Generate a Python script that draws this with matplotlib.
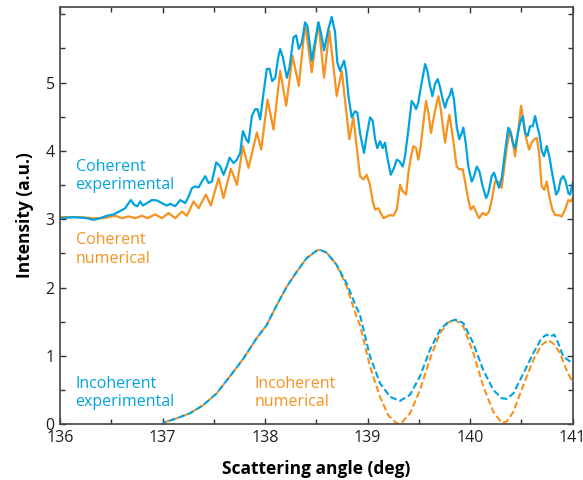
import numpy as np
from matplotlib import pyplot as plt
from matplotlib.ticker import MultipleLocator

# 相干 实验 (蓝色实线)
coh_exp_x = [136.000, 136.130, 136.260, 136.325, 136.390, 136.455, 136.520, 136.585, 136.634, 136.667,
             136.689, 136.722, 136.754, 136.780, 136.807, 136.846, 136.894, 136.943, 136.992, 137.041,
             137.073, 137.122, 137.171, 137.220, 137.252, 137.285, 137.317, 137.350, 137.382, 137.415,
             137.447, 137.480, 137.522, 137.561, 137.593, 137.626, 137.652, 137.691, 137.724, 137.756,
             137.782, 137.815, 137.837, 137.870, 137.902, 137.925, 137.951, 137.984, 138.016, 138.042,
             138.068, 138.098, 138.130, 138.146, 138.172, 138.211, 138.237, 138.276, 138.302, 138.328,
             138.358, 138.389, 138.412, 138.454, 138.519, 138.542, 138.574, 138.616, 138.649, 138.681,
             138.704, 138.730, 138.756, 138.769, 138.789, 138.812, 138.844, 138.877, 138.899, 138.925,
             138.964, 138.990, 139.023, 139.049, 139.072, 139.094, 139.120, 139.147, 139.169, 139.192,
             139.225, 139.257, 139.283, 139.309, 139.342, 139.364, 139.397, 139.429, 139.452, 139.472,
             139.494, 139.527, 139.560, 139.582, 139.608, 139.631, 139.657, 139.683, 139.706, 139.732,
             139.755, 139.777, 139.797, 139.820, 139.842, 139.868, 139.894, 139.917, 139.933, 139.956,
             139.982, 140.015, 140.038, 140.064, 140.090, 140.122, 140.155, 140.177, 140.210, 140.233,
             140.259, 140.281, 140.307, 140.330, 140.356, 140.372, 140.395, 140.415, 140.438, 140.460,
             140.486, 140.512, 140.535, 140.561, 140.584, 140.610, 140.633, 140.655, 140.675, 140.698,
             140.720, 140.747, 140.772, 140.805, 140.838, 140.860, 140.883, 140.909, 140.932, 140.958,
             140.974, 141.000]
coh_exp_y = [3.015, 3.03, 3.015, 2.99, 3.015, 3.05, 3.07, 3.12, 3.16, 3.235,
             3.28, 3.21, 3.19, 3.26, 3.20, 3.235, 3.28, 3.275, 3.235, 3.20,
             3.225, 3.19, 3.28, 3.235, 3.33, 3.455, 3.48, 3.465, 3.55, 3.63,
             3.53, 3.55, 3.83, 3.775, 3.65, 3.775, 3.90, 3.82, 3.87, 3.97,
             4.29, 4.17, 4.12, 4.51, 4.61, 4.61, 4.46, 4.85, 5.20, 5.20,
             5.02, 5.07, 5.39, 5.49, 5.37, 5.07, 5.22, 5.66, 5.69, 5.49,
             5.59, 5.88, 5.83, 5.32, 5.88, 5.74, 5.47, 5.78, 5.96, 5.74,
             5.29, 5.17, 5.27, 5.32, 5.17, 4.80, 4.49, 4.58, 4.56, 4.26,
             3.97, 4.22, 4.49, 4.44, 4.17, 4.04, 4.14, 4.04, 4.12, 3.90,
             3.65, 3.75, 3.87, 3.85, 3.77, 3.92, 4.31, 4.73, 4.68, 4.61,
             4.71, 5.00, 5.27, 5.17, 4.95, 4.80, 4.98, 5.05, 4.93, 4.75,
             4.63, 4.75, 4.80, 4.91, 4.75, 4.36, 4.17, 4.26, 4.34, 4.12,
             3.77, 3.55, 3.63, 3.77, 3.70, 3.48, 3.31, 3.38, 3.63, 3.68,
             3.55, 3.46, 3.60, 3.87, 4.17, 4.34, 4.26, 4.12, 4.04, 4.22,
             4.41, 4.51, 4.26, 4.22, 4.36, 4.36, 4.51, 4.36, 4.24, 4.00,
             3.92, 4.07, 3.92, 3.63, 3.36, 3.41, 3.58, 3.63, 3.55, 3.38,
             3.36, 3.53]

# 相干 数值 (橙色实线)
coh_num_x = [136.000, 136.195, 136.325, 136.423, 136.537, 136.602, 136.667, 136.732, 136.797, 136.852,
             136.927, 136.992, 137.057, 137.122, 137.187, 137.236, 137.301, 137.350, 137.421, 137.470,
             137.545, 137.593, 137.665, 137.724, 137.782, 137.837, 137.919, 137.961, 138.023, 138.081,
             138.146, 138.205, 138.267, 138.328, 138.389, 138.454, 138.519, 138.574, 138.626, 138.698,
             138.747, 138.821, 138.860, 138.925, 138.958, 138.990, 139.023, 139.049, 139.072, 139.104,
             139.153, 139.186, 139.218, 139.251, 139.283, 139.316, 139.342, 139.374, 139.397, 139.423,
             139.446, 139.472, 139.494, 139.517, 139.543, 139.569, 139.592, 139.618, 139.641, 139.667,
             139.690, 139.713, 139.738, 139.755, 139.777, 139.797, 139.820, 139.842, 139.868, 139.894,
             139.927, 139.950, 139.982, 140.005, 140.031, 140.057, 140.086, 140.122, 140.155, 140.184,
             140.210, 140.242, 140.275, 140.307, 140.330, 140.356, 140.389, 140.411, 140.438, 140.470,
             140.496, 140.519, 140.545, 140.574, 140.600, 140.626, 140.649, 140.672, 140.698, 140.724,
             140.747, 140.772, 140.802, 140.828, 140.860, 140.893, 140.925, 140.958, 140.981, 141.000]
coh_num_y = [3.03, 3.03, 3.015, 3.015, 3.05, 3.015, 3.04, 3.015, 3.05, 3.015,
             3.07, 3.015, 3.09, 3.015, 3.11, 3.05, 3.26, 3.16, 3.36, 3.20,
             3.60, 3.31, 3.74, 3.50, 4.07, 3.75, 4.27, 4.02, 4.75, 4.31,
             5.17, 4.66, 5.39, 4.95, 5.86, 5.15, 5.88, 5.07, 5.76, 4.80,
             5.17, 4.17, 4.49, 3.63, 3.58, 3.65, 3.50, 3.26, 3.14, 3.16,
             3.015, 3.04, 3.06, 3.05, 3.14, 3.50, 3.41, 3.36, 3.68, 3.92,
             4.07, 4.04, 3.87, 4.07, 4.41, 4.73, 4.56, 4.26, 4.46, 4.66,
             4.80, 4.61, 4.31, 4.12, 4.36, 4.53, 4.31, 4.07, 3.77, 3.73,
             3.73, 3.55, 3.28, 3.14, 3.19, 3.11, 3.015, 3.09, 3.06, 3.11,
             3.28, 3.55, 3.55, 3.46, 3.73, 4.04, 4.31, 4.17, 3.92, 4.31,
             4.66, 4.46, 4.19, 4.02, 4.12, 4.17, 4.19, 3.97, 3.48, 3.43,
             3.55, 3.33, 3.14, 3.06, 3.06, 3.04, 3.14, 3.28, 3.26, 3.31]

# 非相干 (虚线) 两条曲线在峰值前重合
inc_rise_x = [137.000, 137.136, 137.266, 137.396, 137.526, 137.656, 137.787, 137.917, 138.014, 138.112,
              138.209, 138.307, 138.404, 138.502, 138.535, 138.600, 138.697]
inc_rise_y = [0.02, 0.085, 0.16, 0.28, 0.45, 0.70, 0.96, 1.26, 1.45, 1.74,
              2.01, 2.23, 2.43, 2.54, 2.55, 2.51, 2.33]

inc_exp_tail_x = [138.795, 138.892, 138.925, 139.023, 139.120, 139.218, 139.315, 139.413, 139.510, 139.608,
                  139.705, 139.787, 139.862, 139.933, 140.031, 140.128, 140.226, 140.307, 140.356, 140.421,
                  140.518, 140.616, 140.697, 140.746, 140.779, 140.821, 140.860, 140.909, 141.000]
inc_exp_tail_y = [2.06, 1.70, 1.60, 0.99, 0.60, 0.40, 0.34, 0.43, 0.70, 1.09,
                  1.38, 1.50, 1.53, 1.48, 1.18, 0.79, 0.50, 0.38, 0.37, 0.45,
                  0.74, 1.04, 1.26, 1.31, 1.28, 1.31, 1.18, 0.99, 0.89]

inc_num_tail_x = [138.795, 138.892, 138.925, 139.023, 139.120, 139.201, 139.283, 139.332, 139.413, 139.510,
                  139.608, 139.705, 139.787, 139.852, 139.933, 140.031, 140.128, 140.226, 140.307, 140.356,
                  140.421, 140.518, 140.616, 140.697, 140.762, 140.811, 140.876, 140.941, 141.000]
inc_num_tail_y = [2.01, 1.57, 1.45, 0.84, 0.40, 0.13, 0.01, 0.02, 0.16, 0.50,
                  0.96, 1.33, 1.49, 1.53, 1.43, 1.04, 0.55, 0.18, 0.02, 0.04,
                  0.18, 0.57, 0.94, 1.16, 1.23, 1.18, 1.04, 0.79, 0.61]

inc_exp_x = inc_rise_x + inc_exp_tail_x
inc_exp_y = inc_rise_y + inc_exp_tail_y
inc_num_x = inc_rise_x + inc_num_tail_x
inc_num_y = inc_rise_y + inc_num_tail_y

blue = '#00A3DF'
orange = '#F7921E'

plt.rcParams['font.family'] = ['Open Sans', 'DejaVu Sans']

fig = plt.figure(figsize=(5.83, 4.8), dpi=100)
ax = fig.add_axes([0.1033, 0.1163, 0.879, 0.8698])

ax.plot(coh_num_x, coh_num_y, color=orange, linewidth=1.6)
ax.plot(coh_exp_x, coh_exp_y, color=blue, linewidth=1.6)
ax.plot(inc_num_x, inc_num_y, color=orange, linewidth=1.5, linestyle=(0, (3.2, 1.5)))
ax.plot(inc_exp_x, inc_exp_y, color=blue, linewidth=1.5, linestyle=(1.6, (3.2, 1.5)))

ax.set_xlim(136, 141)
ax.set_ylim(0, 6.11)
ax.xaxis.set_major_locator(MultipleLocator(1))
ax.xaxis.set_minor_locator(MultipleLocator(0.5))
ax.yaxis.set_major_locator(MultipleLocator(1))
ax.yaxis.set_minor_locator(MultipleLocator(0.5))
ax.set_yticks([0, 1, 2, 3, 4, 5])
ax.tick_params(which='both', direction='in', top=True, right=True, color='#333333',
               width=1.0, labelsize=11.5, labelcolor='#231f20')
ax.tick_params(which='major', length=4.5, pad=4)
ax.tick_params(which='minor', length=3.5)
for s in ax.spines.values():
    s.set_linewidth(1.2)
    s.set_color('#444444')

ax.set_xlabel('Scattering angle (deg)', fontsize=12.5, fontweight='bold', labelpad=10)
ax.set_ylabel('Intensity (a.u.)', fontsize=12.5, fontweight='bold', labelpad=8)

ax.text(136.15, 3.44, 'Coherent\nexperimental', color=blue, fontsize=11.5,
        va='baseline', ha='left', linespacing=1.2)
ax.text(136.15, 2.365, 'Coherent\nnumerical', color=orange, fontsize=11.5,
        va='baseline', ha='left', linespacing=1.2)
ax.text(136.15, 0.26, 'Incoherent\nexperimental', color=blue, fontsize=11.5,
        va='baseline', ha='left', linespacing=1.2)
ax.text(137.90, 0.26, 'Incoherent\nnumerical', color=orange, fontsize=11.5,
        va='baseline', ha='left', linespacing=1.2)

fig.savefig('out.png', dpi=100)
